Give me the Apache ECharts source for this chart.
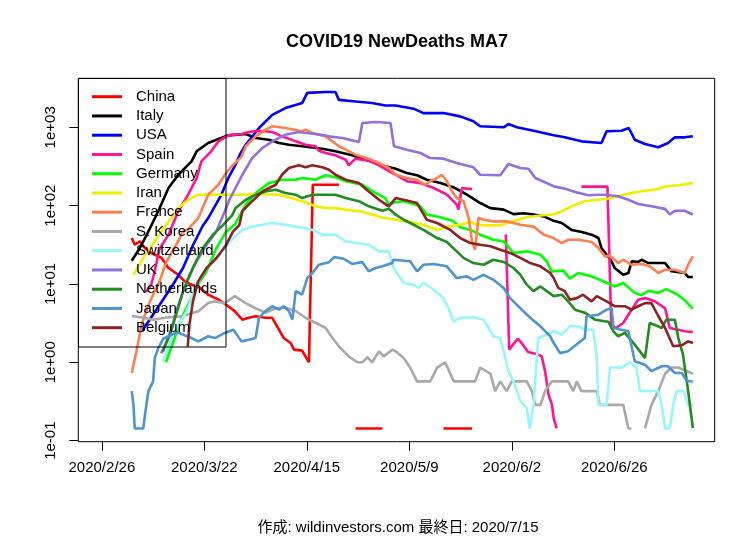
<!DOCTYPE html>
<html>
<head>
<meta charset="utf-8">
<title>COVID19 NewDeaths MA7</title>
<script src="https://cdn.jsdelivr.net/npm/echarts@6/dist/echarts.min.js"></script>
<style>
  html, body { margin: 0; padding: 0; background: #fff; }
  #chart { width: 756px; height: 540px; }
</style>
</head>
<body>
<div id="chart"></div>
<script>
// day index: 0 = 2020/2/26, values are 7-day moving averages of new deaths
// null = zero / negative days (nothing drawn on a log axis)
const tickDays = [0, 24, 48, 72, 96, 120];
const tickLabels = ['2020/2/26', '2020/3/22', '2020/4/15', '2020/5/9', '2020/6/2', '2020/6/26'];
const yTicks = [0.1, 1, 10, 100, 1000];

const countries = ['China', 'Italy', 'USA', 'Spain', 'Germany', 'Iran', 'France',
  'S. Korea', 'Switzerland', 'UK', 'Netherlands', 'Japan', 'Belgium'];
const colors = ['#FF0000', '#000000', '#0000FF', '#FF1493', '#00FF00', '#EEEE00', '#FF7F50',
  '#A9A9A9', '#98F5FF', '#9370DB', '#228B22', '#4F94CD', '#8B2323'];

const china = [[7,38.6],[7.7,31.7],[8.9,35],[9.7,30.3],[10.9,26.1],[12.4,23.6],[14,21.5],[15.6,16],[17.9,13.1],
  [19.4,10.8],[21,9.8],[22.6,9.3],[24.9,7.3],[27.3,6.3],[29.6,5.2],[31.1,4.5],[32.9,3.5],[34.4,3.7],[36,3.87],
  [38.3,3.7],[39.9,3.7],[41.5,2.6],[42.6,2.04],[44.2,1.76],[45,1.45],[46.9,1.41],[48.5,1.0],[49.4,185],[55.5,185],
  [56,null],[59.4,0.143],[65.7,0.143],[66,null],[80,0.143],[86.7,0.143]];

const italy = [[7,19.8],[8.9,28.8],[10.9,47],[13.2,84.7],[15.6,168],[17.9,248],[21,368],[22.2,494],[24.9,631],
  [27.3,710],[29.6,790],[33.7,822],[36,731],[39.1,695],[41.5,631],[43.8,600],[46.9,573],[51.6,533],[54.7,494],
  [58.6,440],[62.5,375],[66.4,318],[68.8,296],[71.4,261],[73.8,244],[76.1,214],[79.3,194],[82.4,171],[85.5,138],
  [88.6,108],[91,93],[94.1,89],[96.4,78],[98.8,80],[101.1,77],[103.5,73],[105.8,64],[107.7,60],[110,49],
  [112.4,46],[114.7,42.6],[116.3,38.6],[117,28.8],[118.2,23.6],[119.4,19.4],[120.1,16],[122.1,13.1],[123.3,13.8],
  [124.1,19.5],[125.6,19.1],[126.4,20.4],[128,18.5],[131.9,18.5],[133.4,14.5],[136.5,13.8],[137.3,12.3],[138.4,12.3]];

const usa = [[8.8,2.6],[9.6,2.6],[13.5,5.4],[16.6,9.7],[19,16],[21.3,31],[23.6,55],[24.9,69.5],
  [28,138],[29.6,225],[31.3,333],[32.3,447],[33.7,600],[36.8,980],[39.9,1445],[43,1760],[46.9,2040],[48.1,2750],
  [52.4,2820],[54.7,2820],[55.5,2240],[59.4,2140],[63.3,2040],[66.4,1900],[68.8,1900],[73,1730],[75.3,1520],
  [80,1520],[83.9,1380],[87,1195],[88.6,1030],[94.1,1000],[95.2,1100],[97.2,1000],[101.1,905],[105.8,790],
  [108.4,745],[112.3,662],[117,630],[118.2,890],[121.7,905],[123.4,980],[124.8,695],[127.2,612],[130.3,556],
  [132.6,630],[134.2,745],[136.5,745],[138.4,770]];

const spain = [[10.4,7.9],[11.6,10],[12.3,14],[13.5,28],[15.6,42.6],[17.9,84.7],[20.2,138],[22.2,225],[23.3,368],[25.6,494],
  [27.3,662],[29.6,790],[32.7,822],[34.4,872],[36.8,905],[39.9,872],[42.2,767],[45.4,662],[47.7,600],[50.1,573],
  [50.8,503],[52.4,470],[54.7,440],[57.1,386],[57.8,327],[59.4,398],[62.5,375],[64.9,327],[68.8,248],[71.4,205],
  [74.6,194],[77.7,168],[80.8,138],[83.1,103],[83.5,89],[84.3,168],[85.5,165],[86.7,163],[87,null],
  [94.6,43],[95.4,1.45],[96.3,1.68],[97.4,2.0],[98.6,1.68],[99.8,1.35],[101.8,1.28],[103,1.19],[103.8,0.77],
  [104.6,0.386],[105.4,0.29],[105.8,0.195],[106.5,0.143],[107,null],
  [112.3,175],[118.4,175],[119.3,3.0],[120.4,2.74],[122.1,3.18],[123.3,4.05],[125.6,6.3],[127.2,6.6],[129.5,6.0],
  [131.9,4.9],[133,2.74],[135,2.6],[136.5,2.49],[138.4,2.44]];

const germany = [[15,1],[17,2],[19,4],[21.3,7.2],[22.9,10.7],[24.5,14.3],[26.8,28.5],[29.1,46.6],[31.1,57],
  [33.7,103],[36,145],[39.1,194],[42.2,214],[45.4,214],[46.9,225],[50,214],[52.4,244],[54.7,230],[57.1,205],
  [61,185],[64.1,145],[66.4,125],[67.2,103],[68.8,111],[70.7,114],[73,105],[74.6,98],[76.1,77],[79.3,71],
  [82.4,63],[83.9,53],[86.3,49],[88.6,42.6],[91.7,36.7],[94.1,35],[96.4,24.9],[99.5,26.1],[102.7,23.6],
  [104.2,19.5],[105.3,14.5],[108.1,14.8],[109.6,11.7],[111.6,13.8],[114.7,12.5],[117.8,10.6],[120.1,9.3],
  [122.1,10.3],[124.8,7.7],[126.4,7.2],[128,8.2],[130.3,7.7],[132.2,8.6],[135,7.2],[136.5,6.2],[138.4,4.8]];

const iran = [[7.4,13.1],[9.7,21.5],[14,47],[17.9,93],[20.2,119],[22.6,138],[26.5,138],[32.7,138],[36,141],
  [41.5,138],[43.8,128],[46.9,114],[50,98],[52.4,93],[54.7,93],[57.1,89],[60.2,85],[63.3,77],[65.7,70],
  [68.8,66],[71.4,63],[75.3,57],[78.5,49],[80.8,54],[83.9,57],[86.3,62],[87.8,57],[90.2,56],[93.3,56],
  [95.6,62],[99.5,71],[102.7,75],[105.8,77],[107.7,85],[110,98],[113.1,114],[116.3,119],[118.6,123],
  [120.9,132],[124,145],[127.2,155],[130.3,163],[132.2,177],[135,182],[138.4,194]];

const france = [[7,0.73],[8.1,1.38],[9.3,3.0],[10.9,5.4],[12.4,8.1],[13.5,10.7],[15.1,19.2],[17.4,31.5],[19,46.6],
  [20.2,50],[22.6,70],[24.9,138],[27.3,185],[28.8,248],[30.4,318],[32.7,420],[33.7,573],[36,767],[38.3,933],
  [39.9,1030],[43,980],[46.9,890],[47.7,933],[49.3,847],[52.4,767],[54,662],[55.5,573],[57.1,518],[59.4,447],
  [62.5,398],[64.9,350],[67.2,302],[68.8,248],[71.4,225],[73.8,214],[75.7,185],[76.9,205],[78.5,225],
  [79.6,248],[80.8,205],[82,152],[83.1,125],[84.7,114],[85.9,70],[86.7,35],[87.4,27.4],[88.2,70],[89.4,66],
  [91.7,63],[94.8,63],[98,57],[101.1,54],[103.5,42.6],[105.8,38.6],[107.7,33.3],[109.2,36.7],[111.6,36.7],
  [114.7,34.3],[116.3,28.8],[117.8,22.5],[119,23],[120.9,18.5],[122.1,20.4],[124,17.6],[126.4,18],[128.3,16.8],
  [130.3,13.8],[131.9,15.2],[134.2,15.2],[136.5,13.8],[137.3,17.6],[138.4,22.5]];

const skorea = [[7,3.9],[9.7,3.7],[12,3.5],[14.8,3.7],[18.7,3.87],[22.6,4.5],[24.9,5.7],[26.5,6.0],[28.8,5.7],
  [31.1,7],[33.7,5.7],[36,4.9],[38.3,4.3],[40.7,4.9],[43,5.0],[45.4,4.5],[47.7,3.7],[50,3.2],[52.4,2.74],
  [54,2.04],[55.5,1.6],[57.8,1.19],[59.8,1.0],[61,1.0],[62.2,1.16],[63.3,1.0],[64.9,1.38],[66,1.19],[68,1.45],
  [68.8,1.38],[70.7,1.13],[72.2,0.857],[73.8,0.571],[76.9,0.571],[78.5,0.857],[80.4,1.0],[82.4,0.571],
  [87.4,0.571],[88.6,0.857],[91,0.714],[92.1,0.429],[93.3,0.571],[94.8,0.429],[96,0.571],[99.5,0.571],
  [100.7,0.429],[101.5,0.286],[102.7,0.286],[103.8,0.429],[105.4,0.571],[109.2,0.571],[110.4,0.429],
  [111.2,0.571],[112.3,0.429],[115.9,0.429],[116.6,0.286],[122.1,0.286],[123.3,0.143],[124,0.143],[125,null],
  [127.2,0.143],[128.7,0.286],[130.3,0.429],[131.9,0.714],[133.4,0.857],[135,0.857],[138.4,0.714]];

const switzerland = [[14.3,1.02],[16.6,2.23],[19.8,4.4],[22.1,9.7],[24.5,15.9],[27.6,23.4],[30.7,38],
  [32.9,49],[35.2,54],[37.6,57],[39.9,60],[43,57],[45.4,54],[46.9,52],[49.3,49],[51.6,42.6],
  [54.7,42.6],[57.1,35],[59.4,33.3],[62.5,31.7],[64.9,26.1],[67.2,26.1],[68.3,16],[70.7,10.3],[73,9.8],
  [74.2,8.9],[75.3,10.3],[77.7,8.5],[80,6.6],[81.2,4.9],[82.4,3.3],[83.9,3.7],[87,3.75],[89.4,3.5],[91.7,2.15],
  [93.3,2.04],[94.1,1.38],[95.2,0.77],[96.4,0.57],[98,0.32],[99.5,0.26],[100.2,0.143],[101.1,0.286],[102.2,2.04],
  [104.2,2.25],[105.8,2.49],[107.7,2.25],[109.6,2.88],[111.6,2.88],[113.1,2.6],[115.1,2.6],[115.9,1.13],
  [116.3,0.286],[118.2,0.286],[119,0.857],[121.7,0.857],[123.7,1.0],[125.2,0.857],[126,0.429],[130.3,0.429],
  [131.1,0.286],[131.9,0.143],[133,0.143],[133.8,0.286],[134.6,0.429],[136.2,0.429],[137.3,0.286],[138.4,0.286]];

const uk = [[13.9,1.3],[15.9,2.2],[17.4,4.4],[19,8],[20.5,13],[22.1,19.2],[24.5,31.5],[26.8,46.6],
  [28.6,80],[29.9,120],[31.3,168],[32.9,248],[35.2,405],[37.6,545],[39.9,662],[43,805],[46.1,872],[50,822],
  [53.2,767],[56.3,731],[60.2,650],[61,1135],[64.1,1170],[67.6,1135],[68.4,573],[71.4,518],[74.6,470],
  [76.9,405],[80,398],[83.1,350],[87,309],[88.6,248],[93.3,244],[95.2,340],[98,302],[99.9,296],[101.5,225],
  [104.2,194],[105.8,177],[108.4,165],[110.8,149],[113.9,136],[116.3,138],[117.8,138],[120.9,132],[123.3,119],
  [125.6,105],[128.7,98],[131.9,91],[133,77],[134.2,86],[136.5,86],[138.4,77]];

const netherlands = [[14.3,1.37],[16.6,2.95],[19,8],[21.3,15.9],[23.6,28.5],[26,42.6],[28.3,56],
  [30.5,75],[31.3,93],[33.7,119],[36,138],[38.3,152],[40.7,160],[43,145],[45.4,138],[46.9,125],[49.3,138],
  [52.4,138],[54.7,138],[57.1,125],[60.2,114],[62.5,98],[65.7,86],[67.2,91],[68.8,77],[70.7,66],[73,57],
  [75.3,49],[78.5,38.6],[80.8,34.3],[83.1,26.1],[84.7,21.5],[87,18.5],[89.4,17.6],[91.7,20.4],[94.1,19.1],
  [96.4,16],[98,13.1],[99.5,9.8],[101.1,8.1],[102.7,9.3],[104.2,8.1],[105.8,7.0],[107.7,7.3],[109.2,6.0],
  [110.8,4.7],[113.1,4.3],[115.5,3.5],[118.6,3.3],[119.8,2.49],[120.9,2.15],[122.5,2.37],[124.8,1.68],
  [127.2,1.13],[128.3,3.18],[129.5,3.0],[131.1,2.74],[132.2,3.5],[134.2,3.5],[135,2.04],[136.1,1.25],
  [137.3,0.43],[138.4,0.145]];

const japan = [[7,0.429],[7.4,0.286],[7.7,0.143],[9.7,0.143],[10.1,0.214],[10.9,0.429],[12,0.571],[12.4,1.13],
  [13.2,1.52],[14.4,2.0],[16.3,2.25],[17.9,2.4],[19.5,2.2],[21,2.04],[22.6,1.85],[24.9,2.15],[26.5,2.04],
  [28.8,2.37],[30.8,2.6],[32.7,1.85],[34.4,1.94],[36,2.04],[36.8,3.7],[38.3,4.5],[39.9,5.2],[41.5,4.7],
  [42.6,5.2],[43.8,4.5],[44.6,3.5],[45.4,8.1],[46.9,7.3],[48.1,11.9],[49.3,13.8],[50.8,17.6],[53.2,19],
  [54.4,22],[56.6,21],[58.6,18],[61,19],[62.5,14.5],[64.1,16],[65.7,16.8],[68,18.5],[68.3,20.4],[72.2,19.5],
  [73.8,14.5],[75.3,17.6],[77.7,18],[80.8,16.8],[83.1,11.9],[85.5,12.5],[87,11.3],[89.4,13.1],[91.7,11.3],
  [94.1,8.9],[95.6,6.6],[98,4.9],[100.3,3.7],[102.7,2.88],[105,2.15],[105.8,1.76],[107.3,1.31],[109.2,1.38],
  [111.6,1.76],[113.1,2.04],[113.5,3.87],[116.3,4.05],[118.2,4.7],[119.4,4.9],[119.8,2.74],[121.7,2.6],
  [123.3,2.49],[124.8,1.03],[127.2,0.93],[128.7,0.77],[131.1,0.89],[132.6,0.89],[134.2,0.73],[135.8,0.73],
  [137,0.58],[138.4,0.57]];

const belgium = [[20.1,1.58],[20.5,3.0],[21.3,5.9],[22.5,10.7],[24.5,15.9],[26.8,21.3],[29.1,31.5],[30.7,46.6],
  [32.2,56.5],[32.9,85],[35.2,114],[37.6,152],[40.7,185],[42.2,248],[43.8,302],[46.1,327],[47.7,309],
  [49.3,327],[51.6,309],[53.2,288],[54.7,248],[57.1,214],[60.2,194],[62.5,152],[64.9,119],[67.2,98],[68.8,125],
  [71.4,116],[73.8,108],[74.9,85],[76.1,66],[78.5,60],[81.6,49],[83.9,38.6],[86.3,33.3],[88.6,31.7],[91,30.3],
  [93.3,27.4],[95.6,24.9],[98,21.5],[100.3,18.5],[102.7,16.8],[105,13.8],[105.8,11.9],[106.9,8.9],[108.4,8.1],
  [109.6,6.3],[111.2,6.6],[112.7,7.3],[114.7,6.0],[115.9,7.0],[118.2,6.0],[120.1,5.2],[122.5,5.2],[124,4.7],
  [125.6,5.2],[127.2,5.7],[128.7,5.7],[130.3,3.9],[131.9,2.74],[133.8,1.6],[135.8,1.65],[137.3,1.85],[138.4,1.76]];

const seriesData = [china, italy, usa, spain, germany, iran, france, skorea, switzerland, uk, netherlands, japan, belgium];

const font = '"Liberation Sans", Arial, sans-serif';
const chart = echarts.init(document.getElementById('chart'), null, { renderer: 'canvas' });

chart.setOption({
  animation: false,
  backgroundColor: '#fff',
  grid: {
    left: 78.3, right: 41.3, top: 78.3, bottom: 98.3,
    show: true, borderColor: '#000', borderWidth: 1, backgroundColor: 'transparent'
  },
  xAxis: {
    type: 'value', min: -5.52, max: 143.52,
    axisLine: { show: false, onZero: false },
    splitLine: { show: false },
    axisTick: { show: true, customValues: tickDays, length: 9, lineStyle: { color: '#000', width: 1 } },
    axisLabel: {
      customValues: tickDays, margin: 19, fontSize: 15, color: '#000', fontFamily: font,
      formatter: function (v) { return tickLabels[tickDays.indexOf(Math.round(v))]; }
    }
  },
  yAxis: {
    type: 'log', logBase: 10, min: 0.0969, max: 4225,
    axisLine: { show: false, onZero: false },
    splitLine: { show: false },
    axisTick: { show: true, customValues: yTicks, length: 9, lineStyle: { color: '#000', width: 1 } },
    axisLabel: {
      customValues: yTicks, rotate: 90, margin: 20, fontSize: 15, color: '#000', fontFamily: font,
      formatter: function (v) {
        var e = Math.round(Math.log10(v));
        return '1e' + (e < 0 ? '-' : '+') + String(Math.abs(e)).padStart(2, '0');
      }
    }
  },
  legend: {
    data: countries, orient: 'vertical', left: 92, top: 87.2, padding: 0,
    itemWidth: 30, itemHeight: 3, itemGap: 0.25, icon: 'rect', selectedMode: false,
    textStyle: { fontSize: 15, lineHeight: 19, color: '#000', fontFamily: font, padding: [0, 0, 0, 9] }
  },
  graphic: [
    {
      type: 'text', x: 397, y: 42,
      style: { text: 'COVID19 NewDeaths MA7', font: 'bold 18px ' + font, fill: '#000', textAlign: 'center', textVerticalAlign: 'middle' }
    },
    {
      type: 'text', x: 398, y: 528,
      style: { text: '作成: wildinvestors.com 最終日: 2020/7/15', font: '15px "Liberation Sans", "Noto Sans CJK JP", sans-serif',
        fill: '#000', textAlign: 'center', textVerticalAlign: 'middle' }
    },
    {
      // legend frame
      type: 'rect', z: 100,
      shape: { x: 78.5, y: 78.5, width: 147.5, height: 268.5 },
      style: { fill: 'none', stroke: '#000', lineWidth: 1 }
    }
  ],
  series: countries.map(function (name, i) {
    return {
      name: name, type: 'line', data: seriesData[i],
      color: colors[i],
      showSymbol: false, symbol: 'none', connectNulls: false,
      lineStyle: { width: 2.6, color: colors[i] },
      emphasis: { disabled: true }
    };
  })
});
</script>
</body>
</html>
